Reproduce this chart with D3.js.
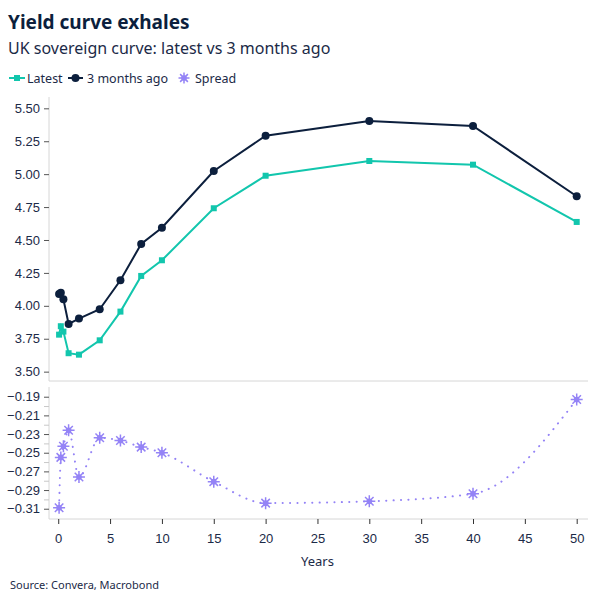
<!DOCTYPE html>
<html>
<head>
<meta charset="utf-8">
<script src="https://cdn.jsdelivr.net/npm/d3@7"></script>
<style>
  body { margin: 0; background: #fff; }
  svg { display: block; font-family: "Segoe UI", "Noto Sans", sans-serif; }
</style>
</head>
<body>
<svg></svg>
<script>
// Yield curve: latest vs 3 months ago, plus the spread underneath

let width = 604;
let height = 604;

// dati
const maturities = [0.083, 0.25, 0.5, 1, 2, 4, 6, 8, 10, 15, 20, 30, 40, 50];
const latest = [3.781, 3.845, 3.804, 3.640, 3.629, 3.738, 3.956, 4.227, 4.346, 4.741, 4.988, 5.100, 5.072, 4.637];
const threeMonthsAgo = [4.090, 4.100, 4.050, 3.862, 3.903, 3.974, 4.194, 4.470, 4.593, 5.024, 5.292, 5.404, 5.366, 4.832];
const spread = [-0.309, -0.255, -0.243, -0.226, -0.276, -0.234, -0.237, -0.244, -0.250, -0.281, -0.304, -0.302, -0.294, -0.193];

const xTicks = [0, 5, 10, 15, 20, 25, 30, 35, 40, 45, 50];
const topTicks = [3.50, 3.75, 4.00, 4.25, 4.50, 4.75, 5.00, 5.25, 5.50];
const bottomTicks = [-0.31, -0.29, -0.27, -0.25, -0.23, -0.21, -0.19];
const bottomMinor = [-0.30, -0.28, -0.26, -0.24, -0.22, -0.20];

const navy = "#0c1f3d";
const teal = "#12c6ad";
const purple = "#9483f6";
const grey = "#d6d6d6";
const textColor = "#1b2a47";

const svg = d3.select("svg")
  .attr("width", width)
  .attr("height", height)
  .attr("viewBox", [0, 0, width, height]);

const left = 49, right = 588;

// scale
const x = d3.scaleLinear().domain([-0.89, 51.09]).range([left, right]);
const yTop = d3.scaleLinear().domain([3.429, 5.586]).range([381, 97]);
const yBot = d3.scaleLinear().domain([-0.321, -0.1796]).range([519, 387]);

const rowsLatest = maturities.map((m, i) => ({ x: m, y: latest[i] }));
const rowsOld = maturities.map((m, i) => ({ x: m, y: threeMonthsAgo[i] }));
const rowsSpread = maturities.map((m, i) => ({ x: m, y: spread[i] }));

// titoli
svg.append("text")
  .attr("x", 8).attr("y", 29)
  .attr("fill", navy)
  .style("font-size", "19px")
  .style("font-weight", "bold")
  .text("Yield curve exhales");

svg.append("text")
  .attr("x", 8).attr("y", 54)
  .attr("fill", textColor)
  .style("font-size", "16px")
  .text("UK sovereign curve: latest vs 3 months ago");

// asterisco a 8 raggi
function star(g, r) {
  let d = "";
  for (let k = 0; k < 4; k++) {
    const a = k * Math.PI / 4;
    const dx = Math.cos(a) * r, dy = Math.sin(a) * r;
    d += `M${-dx},${-dy}L${dx},${dy}`;
  }
  g.append("path").attr("d", d).attr("stroke", purple).attr("stroke-width", 1.5).attr("fill", "none");
  g.append("circle").attr("r", 2.8).attr("fill", purple);
}

// legenda
const legend = svg.append("g").attr("transform", "translate(0,78)");
legend.append("line").attr("x1", 9).attr("x2", 25).attr("stroke", teal).attr("stroke-width", 2);
legend.append("rect").attr("x", 14).attr("y", -3).attr("width", 6).attr("height", 6).attr("fill", teal);
legend.append("text").attr("x", 27).attr("y", 5).attr("fill", textColor).style("font-size", "12.5px").text("Latest");
legend.append("line").attr("x1", 68).attr("x2", 83).attr("stroke", navy).attr("stroke-width", 2);
legend.append("circle").attr("cx", 75.5).attr("r", 4).attr("fill", navy);
legend.append("text").attr("x", 87).attr("y", 5).attr("fill", textColor).style("font-size", "12.5px").text("3 months ago");
star(legend.append("g").attr("transform", "translate(184,0)"), 5.5);
legend.append("text").attr("x", 195).attr("y", 5).attr("fill", textColor).style("font-size", "12.5px").text("Spread");

// linee di contorno dei pannelli
svg.append("line").attr("x1", left).attr("x2", left).attr("y1", 97).attr("y2", 381).attr("stroke", grey);
svg.append("line").attr("x1", left).attr("x2", right).attr("y1", 381).attr("y2", 381).attr("stroke", grey);
svg.append("line").attr("x1", left).attr("x2", left).attr("y1", 387).attr("y2", 519).attr("stroke", grey);

// asse y in alto
const axTop = svg.append("g")
  .attr("transform", `translate(${left},0)`)
  .call(d3.axisLeft(yTop).tickValues(topTicks).tickFormat(d3.format(".2f")).tickSize(5).tickPadding(4));
axTop.select(".domain").remove();

// asse y in basso, tick minori grigi
svg.append("g")
  .attr("transform", `translate(${left},0)`)
  .call(d3.axisLeft(yBot).tickValues(bottomMinor).tickFormat("").tickSize(5))
  .call(g => g.select(".domain").remove())
  .call(g => g.selectAll("line").attr("stroke", "#c8c8c8"));

const axBot = svg.append("g")
  .attr("transform", `translate(${left},0)`)
  .call(d3.axisLeft(yBot).tickValues(bottomTicks).tickFormat(d3.format(".2f")).tickSize(5).tickPadding(4));
axBot.select(".domain").remove();

// asse x
const axX = svg.append("g")
  .attr("transform", "translate(0,519)")
  .call(d3.axisBottom(x).tickValues(xTicks).tickSize(5).tickPadding(10));
axX.select(".domain").attr("d", `M${left},0H${right}`).attr("stroke", grey);

svg.selectAll(".tick text").attr("fill", textColor).style("font-size", "13px").style("font-family", "inherit");
axTop.selectAll(".tick line").attr("stroke", "#555");
axBot.selectAll(".tick line").attr("stroke", "#555");
axX.selectAll(".tick line").attr("stroke", "#333");

svg.append("text")
  .attr("x", x(25)).attr("y", 566)
  .attr("text-anchor", "middle")
  .attr("fill", textColor)
  .style("font-size", "13px")
  .text("Years");

svg.append("text")
  .attr("x", 10).attr("y", 589)
  .attr("fill", textColor)
  .style("font-size", "11px")
  .text("Source: Convera, Macrobond");

// linee del pannello superiore
const lineTop = d3.line().x(d => x(d.x)).y(d => yTop(d.y));

svg.append("path").datum(rowsOld)
  .attr("d", lineTop).attr("fill", "none").attr("stroke", navy).attr("stroke-width", 2);
svg.append("path").datum(rowsLatest)
  .attr("d", lineTop).attr("fill", "none").attr("stroke", teal).attr("stroke-width", 2);

svg.append("g").selectAll("circle")
  .data(rowsOld)
  .join("circle")
  .attr("cx", d => x(d.x)).attr("cy", d => yTop(d.y)).attr("r", 4)
  .attr("fill", navy);

svg.append("g").selectAll("rect")
  .data(rowsLatest)
  .join("rect")
  .attr("x", d => x(d.x) - 3).attr("y", d => yTop(d.y) - 3)
  .attr("width", 6).attr("height", 6)
  .attr("fill", teal);

// spread: linea a puntini
const lineBot = d3.line().x(d => x(d.x)).y(d => yBot(d.y)).curve(d3.curveMonotoneX);

svg.append("path").datum(rowsSpread)
  .attr("d", lineBot).attr("fill", "none")
  .attr("stroke", purple).attr("stroke-width", 2)
  .attr("stroke-linecap", "round")
  .attr("stroke-dasharray", "0.1,7.3");

svg.append("g").selectAll("g")
  .data(rowsSpread)
  .join("g")
  .attr("transform", d => `translate(${x(d.x)},${yBot(d.y)})`)
  .each(function() { star(d3.select(this), 6); });
</script>
</body>
</html>
